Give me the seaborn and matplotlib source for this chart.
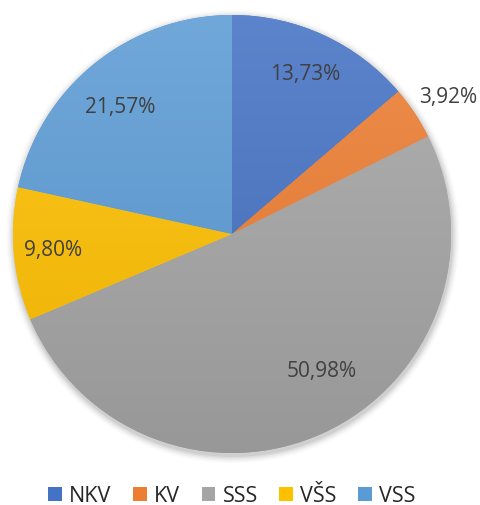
import numpy as np
import matplotlib
matplotlib.use("Agg")
import matplotlib.pyplot as plt
import matplotlib.colors as mcolors
from matplotlib.patches import Patch, Circle
import seaborn as sns

categories = ["NKV", "KV", "SSS", "VŠS", "VSS"]
shares = [13.73, 3.92, 50.98, 9.80, 21.57]
pct_labels = ["13,73%", "3,92%", "50,98%", "9,80%", "21,57%"]

colors = ["#4472C4", "#ED7D31", "#A5A5A5", "#FFC000", "#5B9BD5"]
label_radius = [0.80, 1.17, 0.75, 0.82, 0.77]
label_angle_shift = [0.0, -1.2, 8.4, 0.0, 2.6]

sns.set_theme(style="white")
plt.rcParams["font.family"] = ["Open Sans", "DejaVu Sans"]

W, H = 480, 505
fig = plt.figure(figsize=(W / 100, H / 100), dpi=100)
cx, cy, r = 232, 234, 219
lim = 1.25
ax = fig.add_axes([(cx - lim * r) / W, (H - cy - lim * r) / H, 2 * lim * r / W, 2 * lim * r / H])

wedges, _ = ax.pie(shares, colors=colors, startangle=90, counterclock=False,
                   radius=1.0, wedgeprops=dict(linewidth=0))
ax.set_aspect("equal")
ax.axis("off")

# soft shadow
for i, a in enumerate(np.linspace(0.05, 0.012, 6)):
    ax.add_patch(Circle((0.004, -0.012), 1.0 + 0.006 * (i + 1), color="black", alpha=a, lw=0, zorder=0))


def mix(c, other, t):
    a = np.array(mcolors.to_rgb(c))
    b = np.array(mcolors.to_rgb(other))
    return tuple(a * (1 - t) + b * t)


for w, c in zip(wedges, colors):
    w.set_zorder(2)
    top = mix(c, "white", 0.13)
    bot = mix(c, "black", 0.08)
    cmap = mcolors.LinearSegmentedColormap.from_list("g", [bot, top])
    grad = np.linspace(0, 1, 256).reshape(-1, 1)
    im = ax.imshow(grad, cmap=cmap, origin="lower", extent=(-1.0, 1.0, -1.0, 1.0),
                   aspect="auto", zorder=3, interpolation="bilinear")
    im.set_clip_path(w)

ax.set_xlim(-lim, lim)
ax.set_ylim(-lim, lim)

for w, lab, rr, sh in zip(wedges, pct_labels, label_radius, label_angle_shift):
    mid = np.deg2rad((w.theta1 + w.theta2) / 2 + sh)
    ax.text(rr * np.cos(mid), rr * np.sin(mid), lab, ha="center", va="center",
            fontsize=15, color="#404040", zorder=5)

handles = [Patch(facecolor=c, edgecolor="none") for c in colors]
fig.legend(handles, categories, loc="center", bbox_to_anchor=(232 / W, 1 - 496 / H), ncol=5,
           frameon=False, fontsize=15.5, handlelength=0.62, handleheight=0.62,
           handletextpad=0.35, columnspacing=1.0, labelcolor="#262626")

fig.savefig("out.png", dpi=100)
